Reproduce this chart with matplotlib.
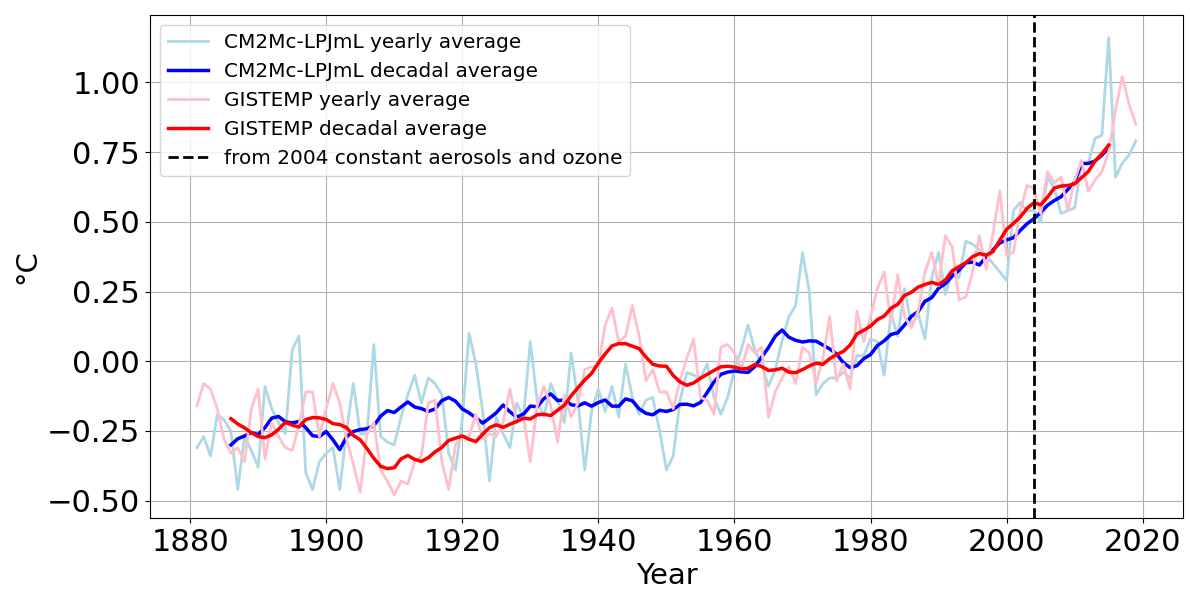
import matplotlib
matplotlib.use("Agg")
import matplotlib.pyplot as plt
import numpy as np

# ---- yearly temperature anomalies (degC), 1881-2019 ----
years = np.arange(1881, 2020)

cm2mc_yearly = [
    -0.31, -0.27, -0.34, -0.19, -0.21, -0.25, -0.46, -0.27, -0.32, -0.38,
    -0.09, -0.17, -0.22, -0.26, 0.04, 0.09, -0.40, -0.46, -0.36, -0.33,
    -0.31, -0.46, -0.25, -0.08, -0.26, -0.26, 0.06, -0.27, -0.29, -0.30,
    -0.20, -0.12, -0.05, -0.15, -0.06, -0.08, -0.12, -0.33, -0.39, -0.21,
    0.10, -0.01, -0.18, -0.43, -0.20, -0.26, -0.31, -0.15, -0.20, 0.07,
    -0.14, -0.20, -0.08, -0.14, -0.22, 0.03, -0.14, -0.39, -0.18, -0.10,
    -0.18, -0.09, -0.20, -0.01, -0.13, -0.19, -0.14, -0.13, -0.25, -0.39,
    -0.34, -0.14, -0.04, -0.05, -0.06, -0.01, -0.13, -0.19, -0.13, -0.03,
    0.04, 0.13, 0.04, -0.01, -0.09, -0.03, 0.075, 0.16, 0.20, 0.39,
    0.25, -0.12, -0.08, -0.06, -0.06, -0.04, -0.06, 0.02, 0.02, 0.08,
    0.07, -0.05, 0.17, 0.09, 0.26, 0.13, 0.17, 0.08, 0.30, 0.39,
    0.24, 0.32, 0.30, 0.43, 0.42, 0.40, 0.38, 0.35, 0.32, 0.29,
    0.54, 0.57, 0.54, 0.54, 0.50, 0.66, 0.62, 0.53, 0.54, 0.55,
    0.71, 0.71, 0.80, 0.81, 1.16, 0.66, 0.71, 0.74, 0.79,
]

gistemp_yearly = [
    -0.16, -0.08, -0.10, -0.17, -0.28, -0.33, -0.31, -0.36, -0.17, -0.10,
    -0.35, -0.22, -0.27, -0.31, -0.32, -0.23, -0.11, -0.11, -0.27, -0.17,
    -0.08, -0.15, -0.28, -0.37, -0.47, -0.26, -0.22, -0.39, -0.43, -0.48,
    -0.43, -0.44, -0.36, -0.34, -0.15, -0.14, -0.36, -0.46, -0.30, -0.27,
    -0.27, -0.19, -0.28, -0.26, -0.27, -0.22, -0.10, -0.22, -0.20, -0.36,
    -0.16, -0.09, -0.16, -0.29, -0.12, -0.20, -0.15, -0.03, -0.02, -0.02,
    0.13, 0.19, 0.07, 0.09, 0.20, 0.09, -0.07, -0.03, -0.11, -0.11,
    -0.17, -0.07, 0.01, 0.08, -0.13, -0.14, -0.19, 0.05, 0.06, 0.03,
    -0.03, 0.06, 0.03, 0.05, -0.20, -0.11, -0.06, -0.02, -0.08, 0.05,
    0.03, -0.08, 0.01, 0.16, -0.07, -0.01, -0.10, 0.18, 0.07, 0.16,
    0.26, 0.32, 0.14, 0.31, 0.16, 0.12, 0.18, 0.32, 0.39, 0.27,
    0.45, 0.41, 0.22, 0.23, 0.32, 0.45, 0.33, 0.46, 0.61, 0.38,
    0.39, 0.54, 0.63, 0.62, 0.53, 0.68, 0.64, 0.66, 0.54, 0.65,
    0.72, 0.61, 0.65, 0.68, 0.75, 0.90, 1.02, 0.92, 0.85,
]

# ---- decadal averages, 1886-2015 ----
decadal_years = np.arange(1886, 2016)

cm2mc_decadal = [
    -0.300, -0.278, -0.268, -0.256, -0.263, -0.238, -0.204, -0.198, -0.217, -0.221,
    -0.216, -0.238, -0.267, -0.270, -0.252, -0.282, -0.317, -0.271, -0.252, -0.245,
    -0.242, -0.231, -0.197, -0.177, -0.184, -0.164, -0.146, -0.164, -0.170, -0.180,
    -0.171, -0.141, -0.130, -0.143, -0.171, -0.185, -0.203, -0.222, -0.204, -0.185,
    -0.157, -0.181, -0.200, -0.190, -0.161, -0.163, -0.134, -0.117, -0.141, -0.139,
    -0.156, -0.160, -0.149, -0.161, -0.148, -0.139, -0.161, -0.161, -0.135, -0.142,
    -0.171, -0.187, -0.192, -0.176, -0.180, -0.173, -0.155, -0.154, -0.160, -0.148,
    -0.112, -0.074, -0.047, -0.039, -0.035, -0.038, -0.040, -0.019, 0.015, 0.049,
    0.090, 0.112, 0.086, 0.075, 0.069, 0.073, 0.072, 0.058, 0.044, 0.026,
    -0.005, -0.023, -0.016, 0.009, 0.024, 0.056, 0.073, 0.096, 0.102, 0.130,
    0.161, 0.178, 0.215, 0.228, 0.262, 0.278, 0.305, 0.326, 0.353, 0.355,
    0.345, 0.375, 0.400, 0.424, 0.435, 0.443, 0.469, 0.493, 0.511, 0.533,
    0.559, 0.576, 0.590, 0.616, 0.643, 0.709, 0.709, 0.718, 0.739, 0.764,
]

gistemp_decadal = [
    -0.206, -0.225, -0.239, -0.256, -0.270, -0.274, -0.264, -0.244, -0.219, -0.229,
    -0.236, -0.209, -0.202, -0.203, -0.209, -0.224, -0.227, -0.238, -0.266, -0.282,
    -0.313, -0.348, -0.377, -0.385, -0.382, -0.350, -0.338, -0.352, -0.359, -0.346,
    -0.325, -0.309, -0.284, -0.276, -0.268, -0.280, -0.288, -0.262, -0.238, -0.228,
    -0.237, -0.226, -0.216, -0.204, -0.207, -0.192, -0.190, -0.195, -0.176, -0.158,
    -0.124, -0.095, -0.067, -0.044, -0.006, 0.026, 0.055, 0.063, 0.063, 0.054,
    0.045, 0.015, -0.011, -0.017, -0.018, -0.051, -0.074, -0.086, -0.078, -0.061,
    -0.047, -0.033, -0.020, -0.018, -0.021, -0.028, -0.025, -0.012, -0.019, -0.033,
    -0.031, -0.025, -0.039, -0.041, -0.030, -0.017, -0.007, -0.011, 0.009, 0.024,
    0.035, 0.058, 0.098, 0.111, 0.126, 0.149, 0.162, 0.190, 0.204, 0.236,
    0.247, 0.266, 0.275, 0.283, 0.275, 0.291, 0.324, 0.339, 0.353, 0.375,
    0.386, 0.380, 0.393, 0.434, 0.473, 0.494, 0.517, 0.548, 0.568, 0.561,
    0.588, 0.621, 0.628, 0.630, 0.636, 0.658, 0.680, 0.718, 0.744, 0.775,
]

aerosol_year = 2004
ytick_values = [-0.50, -0.25, 0.00, 0.25, 0.50, 0.75, 1.00]

fig = plt.figure(figsize=(11.9, 5.94), dpi=100)
ax = fig.add_axes([0.126, 0.128, 0.868, 0.847])

ax.plot(years, cm2mc_yearly, color='lightblue', lw=2, label='CM2Mc-LPJmL yearly average')
ax.plot(decadal_years, cm2mc_decadal, color='blue', lw=2.5, label='CM2Mc-LPJmL decadal average')
ax.plot(years, gistemp_yearly, color='pink', lw=2, label='GISTEMP yearly average')
ax.plot(decadal_years, gistemp_decadal, color='red', lw=2.5, label='GISTEMP decadal average')
ax.axvline(aerosol_year, color='black', ls='--', lw=2,
           label='from 2004 constant aerosols and ozone')

# fixed ticks, default formatter keeps the unicode minus and 2 decimals
ax.set_yticks(ytick_values)
ax.set_xlabel('Year', fontsize=21)
ax.set_ylabel('°C', fontsize=21)
ax.tick_params(labelsize=22)
ax.grid(True)
ax.legend(loc='upper left', fontsize=14.4)

fig.savefig('out.png')
